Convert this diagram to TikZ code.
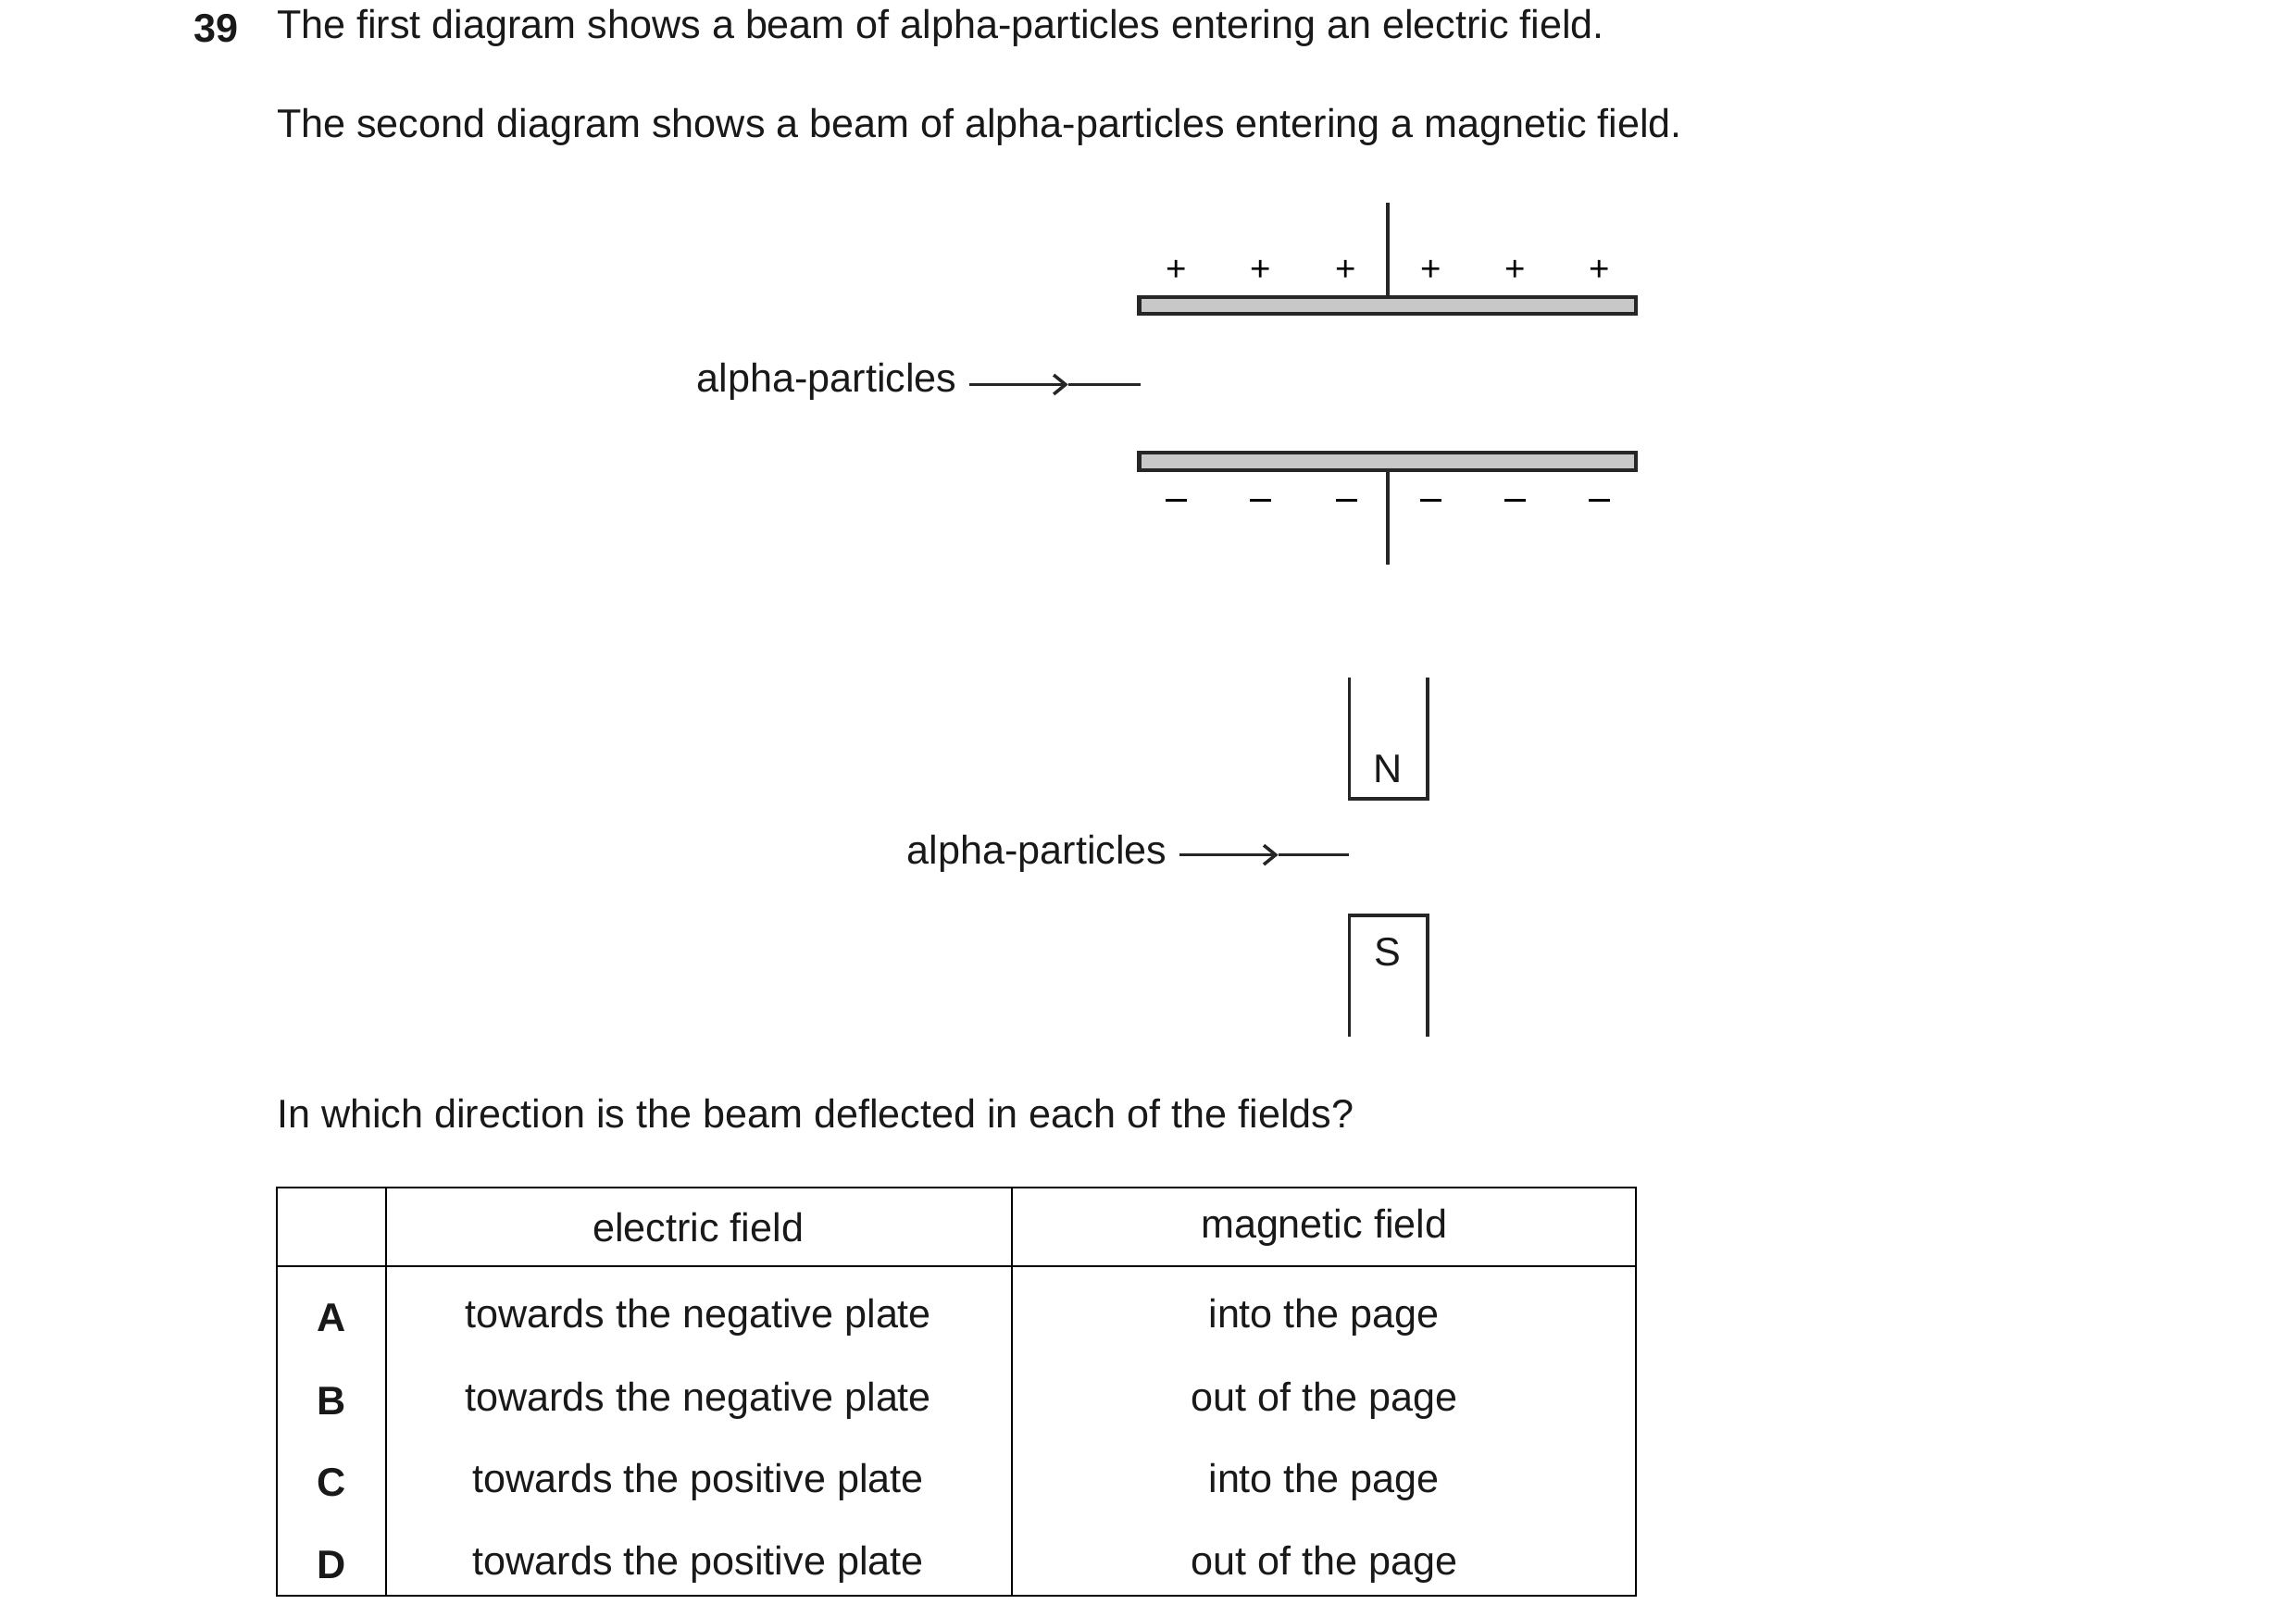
\documentclass[tikz,border=0pt]{standalone}
\usepackage{fontspec}
\setmainfont{Liberation Sans}
\usetikzlibrary{arrows.meta}
\definecolor{plate}{RGB}{200,200,200}
\begin{document}
\begin{tikzpicture}[x=1pt,y=-1pt,
  txt/.style={inner sep=0pt,font=\fontsize{27}{32}\selectfont,text=black!90},
  ln/.style={line width=2.2pt,draw=black!85},
  pl/.style={line width=2.6pt,draw=black!85,fill=plate},
  sgn/.style={inner sep=0pt,font=\fontsize{24}{28}\selectfont}]
\useasboundingbox (0,0) rectangle (1552,1093);
\node[txt,anchor=west,font=\fontsize{27}{32}\bfseries] (q) at (131,19) {39};
\node[txt,anchor=west] (l1) at (187,19) {The first diagram shows a beam of alpha-particles entering an electric field.};
\node[txt,anchor=west] (l2) at (187,86) {The second diagram shows a beam of alpha-particles entering a magnetic field.};
% electric field
\draw[pl] (770,201) rectangle (1106,212);
\draw[pl] (770,306) rectangle (1106,318);
\draw[ln] (938,137) -- (938,201);
\draw[ln] (938,318) -- (938,382);
\foreach \x [count=\i] in {795,852,910,967,1024,1081}{
  \node[sgn] (p\i) at (\x,183) {+};
  \node[sgn] (m\i) at (\x,340) {\rule[0.3ex]{0.6em}{1.6pt}};
}
\node[txt,anchor=east] (a1) at (647,258) {alpha-particles};
\coordinate (h1) at (722,260);
\coordinate (e1) at (771,260);
\draw[ln,-{Straight Barb[length=8pt,width=13pt]}] (655,260) -- (h1);
\draw[ln] (h1) -- (e1);
% magnetic field
\draw[ln] (912,458) -- (912,540) -- (965,540) -- (965,458);
\draw[ln] (912,701) -- (912,619) -- (965,619) -- (965,701);
\node[txt] (N) at (938,520) {N};
\node[txt] (S) at (938,644) {S};
\node[txt,anchor=east] (a2) at (789,577) {alpha-particles};
\coordinate (h2) at (864,578);
\coordinate (e2) at (912,578);
\draw[ln,-{Straight Barb[length=8pt,width=13pt]}] (797,578) -- (h2);
\draw[ln] (h2) -- (e2);
\node[txt,anchor=west] (qq) at (187,753) {In which direction is the beam deflected in each of the fields?};
% table
\draw[line width=1.3pt] (187,803) rectangle (1106,1079);
\draw[line width=1.3pt] (187,856) -- (1106,856);
\draw[line width=1.3pt] (261,803) -- (261,1079);
\draw[line width=1.3pt] (684,803) -- (684,1079);
\node[txt] (h1t) at (472,830) {electric field};
\node[txt] (h2t) at (895,830) {magnetic field};
\foreach \y/\L/\e/\m in {891/A/towards the negative plate/into the page,
  947/B/towards the negative plate/out of the page,
  1002/C/towards the positive plate/into the page,
  1058/D/towards the positive plate/out of the page}{
  \node[txt,font=\fontsize{27}{32}\bfseries] (L\L) at (224,\y) {\L};
  \node[txt] (E\L) at (472,\y) {\e};
  \node[txt] (M\L) at (895,\y) {\m};
}
\end{tikzpicture}
\end{document}
